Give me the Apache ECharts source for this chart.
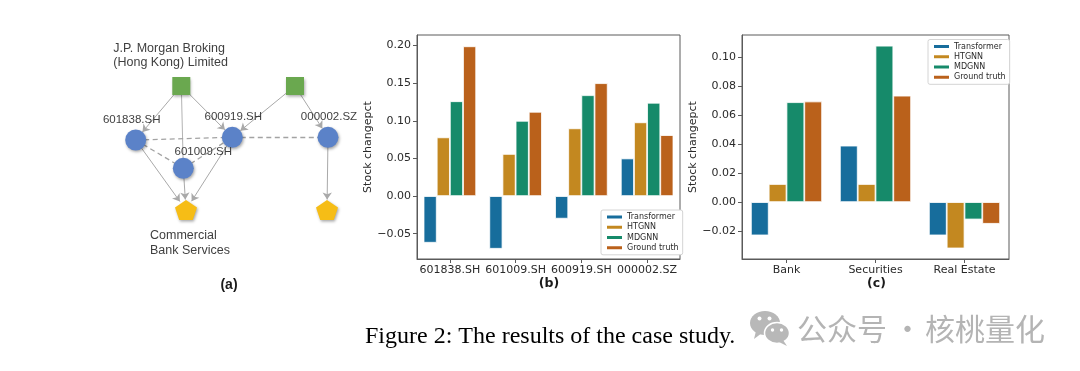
<!DOCTYPE html>
<html>
<head>
<meta charset="utf-8">
<script src="https://cdn.jsdelivr.net/npm/echarts@6/dist/echarts.min.js"></script>
<style>
html,body{margin:0;padding:0;background:#fff;}
#c{width:1080px;height:371px;}
</style>
</head>
<body>
<div id="c"></div>
<script>
// ---------- data ----------
const seriesNames = ['Transformer', 'HTGNN', 'MDGNN', 'Ground truth'];

const catsB = ['601838.SH', '601009.SH', '600919.SH', '000002.SZ'];
const transformerB = [-0.062, -0.070, -0.030, 0.050];
const htgnnB = [0.078, 0.056, 0.090, 0.098];
const mdgnnB = [0.126, 0.100, 0.134, 0.124];
const truthB = [0.199, 0.112, 0.150, 0.081];
const ticksB = [-0.05, 0, 0.05, 0.10, 0.15, 0.20];

const catsC = ['Bank', 'Securities', 'Real Estate'];
const transformerC = [-0.023, 0.039, -0.023];
const htgnnC = [0.0125, 0.0125, -0.032];
const mdgnnC = [0.069, 0.108, -0.012];
const truthC = [0.0695, 0.0735, -0.015];
const ticksC = [-0.02, 0, 0.02, 0.04, 0.06, 0.08, 0.10];

// diagram (panel a)
const nodeIds = ['JPM', 'S2', '601838.SH', '601009.SH', '600919.SH', '000002.SZ', 'CBS', 'P2'];
const nodeLabels = ['J.P. Morgan Broking\n(Hong Kong) Limited', '', '601838.SH', '601009.SH', '600919.SH', '000002.SZ', 'Commercial\nBank Services', ''];
const nodeKinds = ['company', 'company', 'stock', 'stock', 'stock', 'stock', 'industry', 'industry'];
const directedEdges = [['JPM', '601838.SH'], ['JPM', '600919.SH'], ['S2', '600919.SH'], ['S2', '000002.SZ'],
  ['601838.SH', 'CBS'], ['601009.SH', 'CBS'], ['600919.SH', 'CBS'], ['000002.SZ', 'P2']];
const plainEdges = [['JPM', '601009.SH']];
const dashedEdges = [['601838.SH', '600919.SH'], ['600919.SH', '000002.SZ'], ['601838.SH', '601009.SH'], ['601009.SH', '600919.SH']];

// ---------- layout / style ----------
const nodeLayout = {
  'JPM': [181.3, 86], 'S2': [295, 86], '601838.SH': [135.7, 140], '601009.SH': [183.3, 168.3],
  '600919.SH': [232.3, 137.3], '000002.SZ': [328, 137.3], 'CBS': [186, 210], 'P2': [327, 210]
};
const labelLayout = {
  'JPM': { position: 'top', align: 'left', offset: [-68, 0], distance: 7.5, fontSize: 12.5, lineHeight: 13.7 },
  '601838.SH': { position: 'top', offset: [-4, 0], distance: 4, fontSize: 11.5 },
  '601009.SH': { position: 'top', offset: [20, 0], distance: 0, fontSize: 11.5 },
  '600919.SH': { position: 'top', offset: [1, 0], distance: 4, fontSize: 11.5 },
  '000002.SZ': { position: 'top', offset: [1, 0], distance: 4, fontSize: 11.5 },
  'CBS': { position: 'bottom', align: 'left', offset: [-36, 0], distance: 8, fontSize: 12.5, lineHeight: 15 }
};
const pentagon = 'path://M50,0 L97.6,34.5 L79.4,90.5 L20.6,90.5 L2.4,34.5 Z';
const kindStyle = {
  company: { symbol: 'rect', symbolSize: 18, color: '#6aa84f' },
  stock: { symbol: 'circle', symbolSize: 21, color: '#5b82c8' },
  industry: { symbol: pentagon, symbolSize: [22, 20], color: '#f6bd16' }
};
const colors = ['#176d9c', '#c38820', '#168a6a', '#ba611b'];
const FONT = 'DejaVu Sans';
const AXIS_COLOR = '#5a5a5a';
const TEXT_COLOR = '#2a2a2a';

function fmt(v) {
  return (v < 0 ? '\u2212' : '') + Math.abs(v).toFixed(2);
}

const graphNodes = nodeIds.map((id, i) => {
  const k = kindStyle[nodeKinds[i]];
  const ll = labelLayout[id];
  const node = {
    name: id, x: nodeLayout[id][0], y: nodeLayout[id][1],
    symbol: k.symbol, symbolSize: k.symbolSize,
    itemStyle: { color: k.color, shadowBlur: 3, shadowColor: 'rgba(0,0,0,0.35)', shadowOffsetX: 1, shadowOffsetY: 1.5 },
    label: { show: false }
  };
  if (ll && nodeLabels[i]) {
    node.label = Object.assign({
      show: true, formatter: nodeLabels[i], color: '#3f3f3f', fontFamily: 'Liberation Sans'
    }, ll);
  }
  return node;
});
const graphLinks = []
  .concat(directedEdges.map(e => ({ source: e[0], target: e[1], symbol: ['none', 'arrow'], symbolSize: [0, 7],
    lineStyle: { color: '#a9a9a9', width: 1, type: 'solid', opacity: 1 } })))
  .concat(plainEdges.map(e => ({ source: e[0], target: e[1], symbol: ['none', 'none'],
    lineStyle: { color: '#b3b3b3', width: 1, type: 'solid', opacity: 1 } })))
  .concat(dashedEdges.map(e => ({ source: e[0], target: e[1], symbol: ['none', 'none'],
    lineStyle: { color: '#a3a3a3', width: 1.3, type: [5, 3.5], opacity: 1 } })));

function xAxisFor(gridIndex, cats) {
  return {
    type: 'category', gridIndex, data: cats,
    axisLine: { show: true, onZero: false, lineStyle: { color: AXIS_COLOR, width: 1 } },
    axisTick: { show: true, alignWithLabel: true, length: 4, lineStyle: { color: AXIS_COLOR } },
    axisLabel: { interval: 0, margin: 6, fontSize: 11, fontFamily: FONT, color: TEXT_COLOR },
    splitLine: { show: false }
  };
}
function yAxisFor(gridIndex, min, max, ticks, gap) {
  return {
    type: 'value', gridIndex, min, max,
    name: 'Stock changepct', nameLocation: 'middle', nameGap: gap, nameRotate: 90,
    nameTextStyle: { fontSize: 11, fontFamily: FONT, color: TEXT_COLOR },
    axisLine: { show: true, onZero: false, lineStyle: { color: AXIS_COLOR, width: 1 } },
    axisTick: { show: true, length: 4, customValues: ticks, lineStyle: { color: AXIS_COLOR } },
    axisLabel: { customValues: ticks, formatter: fmt, margin: 6, fontSize: 11, fontFamily: FONT, color: TEXT_COLOR },
    splitLine: { show: false }
  };
}
function barSeries(name, idx, data, axisIndex) {
  return {
    type: 'bar', name, data, xAxisIndex: axisIndex, yAxisIndex: axisIndex,
    barGap: '0%', barCategoryGap: '20%',
    itemStyle: { color: colors[idx], borderColor: '#ffffff', borderWidth: 0.8 },
    emphasis: { disabled: true }
  };
}
function legendAt(left, top) {
  return {
    data: seriesNames, orient: 'vertical', left, top,
    icon: 'rect', itemWidth: 17, itemHeight: 5, itemGap: 0,
    padding: [2, 4, 2, 4],
    backgroundColor: '#fff', borderColor: '#d4d4d4', borderWidth: 1, borderRadius: 2,
    textStyle: { fontSize: 8, fontFamily: FONT, color: TEXT_COLOR, lineHeight: 10.2, padding: [0, 0, 0, -1] },
    selectedMode: false
  };
}

const chart = echarts.init(document.getElementById('c'), null, { renderer: 'canvas' });
chart.setOption({
  animation: false,
  backgroundColor: '#fff',
  grid: [
    { left: 417, top: 35, width: 263, height: 224, show: true, borderColor: AXIS_COLOR, borderWidth: 1, backgroundColor: 'transparent' },
    { left: 742, top: 35, width: 267, height: 224, show: true, borderColor: AXIS_COLOR, borderWidth: 1, backgroundColor: 'transparent' }
  ],
  xAxis: [xAxisFor(0, catsB), xAxisFor(1, catsC)],
  yAxis: [yAxisFor(0, -0.0836, 0.214, ticksB, 40), yAxisFor(1, -0.0393, 0.1154, ticksC, 41)],
  legend: [legendAt(601, 210), legendAt(928, 39.5)],
  series: [
    barSeries(seriesNames[0], 0, transformerB, 0),
    barSeries(seriesNames[1], 1, htgnnB, 0),
    barSeries(seriesNames[2], 2, mdgnnB, 0),
    barSeries(seriesNames[3], 3, truthB, 0),
    barSeries(seriesNames[0], 0, transformerC, 1),
    barSeries(seriesNames[1], 1, htgnnC, 1),
    barSeries(seriesNames[2], 2, mdgnnC, 1),
    barSeries(seriesNames[3], 3, truthC, 1),
    {
      type: 'graph', layout: 'none', roam: false,
      left: 135.7, top: 86, width: 192.3, height: 124,
      data: graphNodes, links: graphLinks,
      edgeSymbol: ['none', 'arrow'], edgeSymbolSize: [0, 7],
      emphasis: { disabled: true },
      z: 3
    }
  ],
  graphic: [
    { type: 'text', x: 229, y: 285, style: { text: '(a)', font: 'bold 14px "Liberation Sans"', fill: '#1a1a1a', textAlign: 'center', textVerticalAlign: 'middle' } },
    { type: 'text', x: 549, y: 284, style: { text: '(b)', font: 'bold 12.5px "DejaVu Sans"', fill: '#1a1a1a', textAlign: 'center', textVerticalAlign: 'middle' } },
    { type: 'text', x: 876.5, y: 284, style: { text: '(c)', font: 'bold 12.5px "DejaVu Sans"', fill: '#1a1a1a', textAlign: 'center', textVerticalAlign: 'middle' } },
    { type: 'text', x: 365, y: 337, style: { text: 'Figure 2: The results of the case study.', font: '24px "Liberation Serif"', fill: '#000', textAlign: 'left', textVerticalAlign: 'middle' } },
    // watermark
    { type: 'ellipse', shape: { cx: 765, cy: 323, rx: 15, ry: 12 }, style: { fill: '#b8b8b8' } },
    { type: 'polygon', shape: { points: [[756, 331], [754, 339], [762, 333]] }, style: { fill: '#b8b8b8' } },
    { type: 'circle', shape: { cx: 759.5, cy: 318.5, r: 2 }, style: { fill: '#fff' } },
    { type: 'circle', shape: { cx: 769.5, cy: 318.5, r: 2 }, style: { fill: '#fff' } },
    { type: 'ellipse', shape: { cx: 777, cy: 333, rx: 12.5, ry: 10.5 }, style: { fill: '#b8b8b8', stroke: '#fff', lineWidth: 1.5 } },
    { type: 'polygon', shape: { points: [[783, 340], [787, 346], [779, 342]] }, style: { fill: '#b8b8b8' } },
    { type: 'circle', shape: { cx: 772.5, cy: 330, r: 1.7 }, style: { fill: '#fff' } },
    { type: 'circle', shape: { cx: 781.5, cy: 330, r: 1.7 }, style: { fill: '#fff' } },
    { type: 'text', x: 797, y: 329, style: { text: '公众号', font: '30px "Noto Sans CJK SC"', fill: '#b4b4b4', textAlign: 'left', textVerticalAlign: 'middle' } },
    { type: 'text', x: 907.5, y: 329, style: { text: '·', font: '30px "Noto Sans CJK SC"', fill: '#b4b4b4', textAlign: 'center', textVerticalAlign: 'middle' } },
    { type: 'text', x: 925, y: 329, style: { text: '核桃量化', font: '30px "Noto Sans CJK SC"', fill: '#b4b4b4', textAlign: 'left', textVerticalAlign: 'middle' } }
  ]
});
</script>
</body>
</html>
